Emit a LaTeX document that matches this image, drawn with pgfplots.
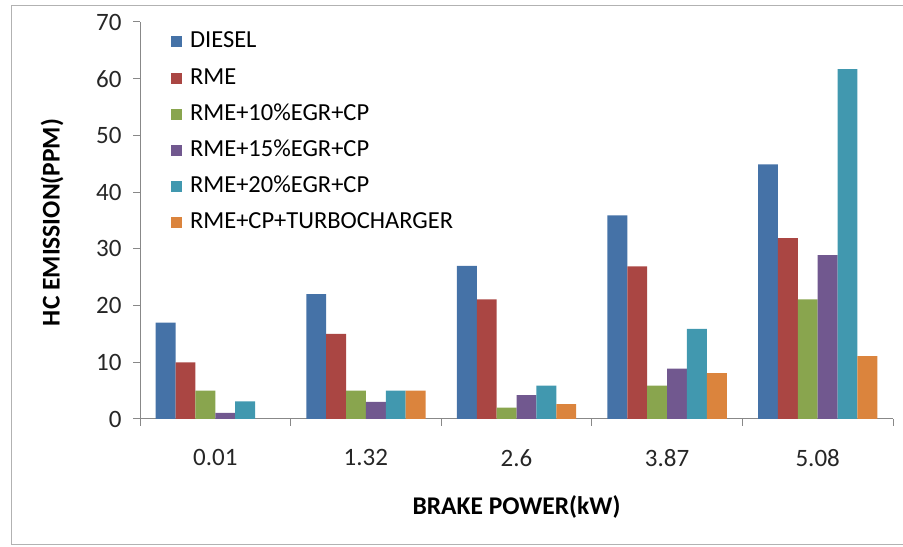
\documentclass[border=0pt]{standalone}
\usepackage{pgfplots}
\pgfplotsset{compat=1.18}
\usepackage{fontspec}
\setmainfont{Carlito}
\definecolor{cDiesel}{HTML}{4572A7}
\definecolor{cRME}{HTML}{AA4643}
\definecolor{cTen}{HTML}{89A54E}
\definecolor{cFif}{HTML}{71588F}
\definecolor{cTwe}{HTML}{4198AF}
\definecolor{cTur}{HTML}{DB843D}
\definecolor{axgray}{HTML}{888888}
\begin{document}
\begin{tikzpicture}[x=1bp,y=1bp]
\useasboundingbox (0,0) rectangle (903,547);
\draw[line width=1bp, gray!60] (903,541)--(11,541)--(11,2)--(903,2);
\begin{axis}[
  at={(140bp,128bp)}, anchor=south west,
  scale only axis, width=753bp, height=397bp,
  ybar, bar width=0.132,
  xmin=-0.5, xmax=4.5, ymin=0, ymax=70,
  ytick={0,10,...,70},
  xtick={0,1,2,3,4},
  xticklabels={0.01,1.32,2.6,3.87,5.08},
  minor xtick={-0.5,0.5,1.5,2.5,3.5,4.5},
  axis lines*=left,
  axis line style={axgray, line width=1bp},
  tick align=outside,
  major tick length=7bp, minor tick length=7bp,
  every tick/.style={axgray, line width=1bp},
  major x tick style={draw=none},
  /pgf/number format/assume math mode=true,
  tick label style={font=\fontsize{25bp}{25bp}\selectfont, text=black!85},
  yticklabel style={xshift=-8bp},
  xticklabel style={yshift=-20bp},
  xlabel={\textbf{BRAKE POWER(kW)}},
  ylabel={\textbf{HC EMISSION(PPM)}},
  label style={font=\fontsize{25.5bp}{25.5bp}\selectfont},
  xlabel style={at={(axis description cs:0.5,-0.2217)}, anchor=center},
  ylabel style={at={(axis description cs:-0.1169,0.495)}, anchor=center},
  legend image code/.code={\fill[#1] (0bp,-5.5bp) rectangle (11bp,5.5bp);},
  legend cell align=left,
  legend style={at={(axis description cs:0.037,0.983)}, anchor=north west,
    draw=none, fill=none, font=\fontsize{24.5bp}{24.5bp}\selectfont,
    row sep=14.2bp, nodes={inner sep=0bp, text height=17bp, text depth=5bp},
    /tikz/every odd column/.append style={column sep=8bp}},
]
\addplot[fill=cDiesel, draw=none, bar shift=-0.330] coordinates {(0,17) (1,22) (2,27) (3,35.9) (4,44.9)};
\addlegendentry{DIESEL}
\addplot[fill=cRME, draw=none, bar shift=-0.198] coordinates {(0,10) (1,15) (2,21.1) (3,26.9) (4,31.9)};
\addlegendentry{RME}
\addplot[fill=cTen, draw=none, bar shift=-0.066] coordinates {(0,5) (1,5) (2,2) (3,5.9) (4,21.1)};
\addlegendentry{RME+10\%EGR+CP}
\addplot[fill=cFif, draw=none, bar shift=0.066] coordinates {(0,1.1) (1,3) (2,4.2) (3,8.9) (4,28.9)};
\addlegendentry{RME+15\%EGR+CP}
\addplot[fill=cTwe, draw=none, bar shift=0.198] coordinates {(0,3.1) (1,5) (2,5.9) (3,15.9) (4,61.7)};
\addlegendentry{RME+20\%EGR+CP}
\addplot[fill=cTur, draw=none, bar shift=0.330] coordinates {(1,5) (2,2.6) (3,8.1) (4,11.1)};
\addlegendentry{RME+CP+TURBOCHARGER}
\end{axis}
\end{tikzpicture}
\end{document}
